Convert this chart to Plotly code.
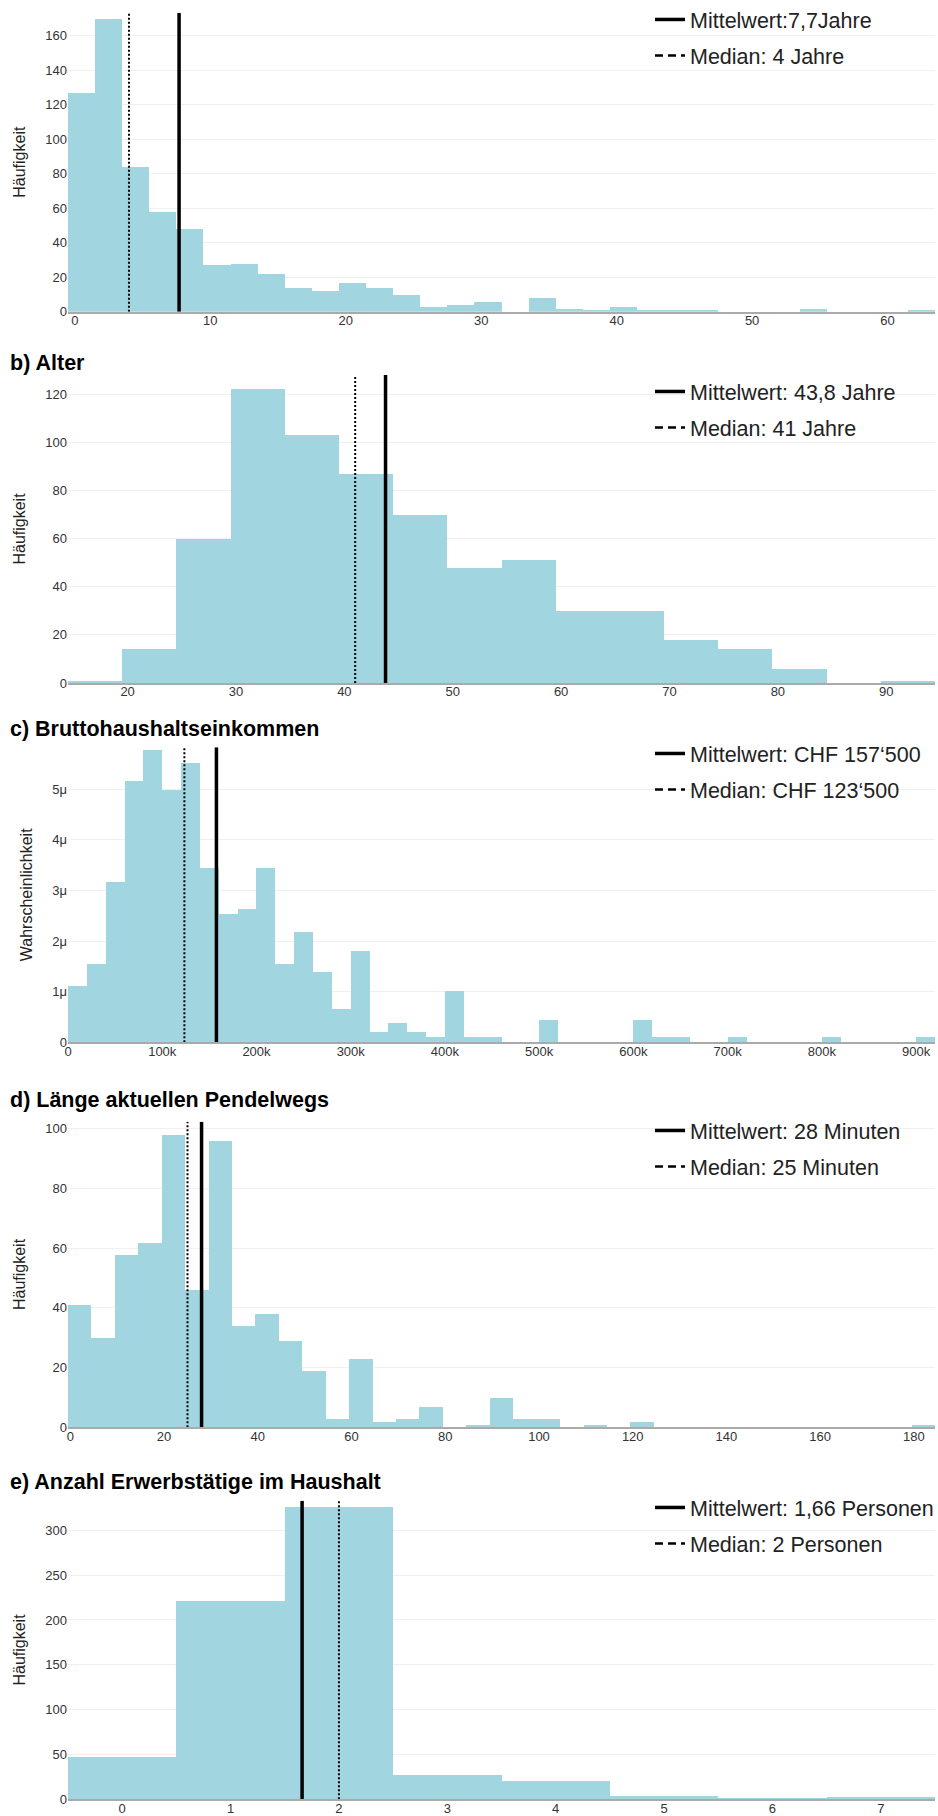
import plotly.graph_objects as go

FIG_W, FIG_H = 938, 1816
BAR_COLOR = "#A1D6E0"
FONT = "Liberation Sans, Arial, sans-serif"

# ---------------- data ----------------
# a) (title outside picture)
A_START, A_WIDTH = -0.5, 2
A_COUNTS = [127, 170, 84, 58, 48, 27, 28, 22, 14, 12, 17, 14, 10, 3, 4, 6,
            0, 8, 2, 1, 3, 1, 1, 1, 0, 0, 0, 2, 0, 0, 0, 1]
A_MEAN, A_MEDIAN = 7.7, 4
A_LABELS = ["Mittelwert:7,7Jahre", "Median: 4 Jahre"]

# b) Alter
B_START, B_WIDTH = 14.5, 5
B_COUNTS = [1, 14, 60, 122, 103, 87, 70, 48, 51, 30, 30, 18, 14, 6, 0, 1]
B_MEAN, B_MEDIAN = 43.8, 41
B_LABELS = ["Mittelwert: 43,8 Jahre", "Median: 41 Jahre"]

# c) Bruttohaushaltseinkommen (density, in 1e-6)
C_START, C_WIDTH = 0, 20000
C_DENSITY_MICRO = [1.10, 1.54, 3.17, 5.16, 5.78, 4.99, 5.51, 3.44, 2.53, 2.63,
                   3.44, 1.54, 2.17, 1.38, 0.65, 1.80, 0.20, 0.37, 0.20, 0.09,
                   1.01, 0.09, 0.09, 0, 0, 0.44, 0, 0, 0, 0,
                   0.44, 0.09, 0.09, 0, 0, 0.09, 0, 0, 0, 0,
                   0.09, 0, 0, 0, 0, 0.09]
C_MEAN, C_MEDIAN = 157500, 123500
C_LABELS = ["Mittelwert: CHF 157\u2018500", "Median: CHF 123\u2018500"]

# d) Länge aktuellen Pendelwegs
D_START, D_WIDTH = -0.5, 5
D_COUNTS = [41, 30, 58, 62, 98, 46, 96, 34, 38, 29, 19, 3, 23, 2, 3, 7, 0, 1,
            10, 3, 3, 0, 1, 0, 2, 0, 0, 0, 0, 0, 0, 0, 0, 0, 0, 0, 1]
D_MEAN, D_MEDIAN = 28, 25
D_LABELS = ["Mittelwert: 28 Minuten", "Median: 25 Minuten"]

# e) Anzahl Erwerbstätige im Haushalt
E_START, E_WIDTH = -0.5, 1
E_COUNTS = [48, 221, 326, 27, 21, 4, 2, 3]
E_MEAN, E_MEDIAN = 1.66, 2
E_LABELS = ["Mittelwert: 1,66 Personen", "Median: 2 Personen"]

TITLES = [None, "b) Alter", "c) Bruttohaushaltseinkommen",
          "d) Länge aktuellen Pendelwegs", "e) Anzahl Erwerbstätige im Haushalt"]
Y_TITLES = ["Häufigkeit", "Häufigkeit", "Wahrscheinlichkeit", "Häufigkeit", "Häufigkeit"]

# ---------------- layout (pixel geometry) ----------------
PLOT_L, PLOT_R = 68, 935
# (plot top px, plot bottom px)
PANEL_PX = [(12.7, 311.7), (375, 683), (747.3, 1042.3), (1121.7, 1427.3), (1500.7, 1799.3)]
TITLE_Y_PX = [None, 362.5, 728.5, 1100, 1481.5]
LEGEND_TOP_PX = [-1, 371, 733, 1110, 1487]
LEGEND_LEFT_PX = 650
Y_TOPS = [173.3, 128, 5.83e-6, 102.4, 333]
Y_DTICKS = [20, 20, 1e-6, 20, 50]
X_DTICKS = [10, 10, 100000, 20, 1]

panels = [
    (A_START, A_WIDTH, A_COUNTS, A_MEAN, A_MEDIAN, A_LABELS),
    (B_START, B_WIDTH, B_COUNTS, B_MEAN, B_MEDIAN, B_LABELS),
    (C_START, C_WIDTH, [v * 1e-6 for v in C_DENSITY_MICRO], C_MEAN, C_MEDIAN, C_LABELS),
    (D_START, D_WIDTH, D_COUNTS, D_MEAN, D_MEDIAN, D_LABELS),
    (E_START, E_WIDTH, E_COUNTS, E_MEAN, E_MEDIAN, E_LABELS),
]

fig = go.Figure()
layout = dict(
    width=FIG_W, height=FIG_H,
    margin=dict(l=PLOT_L, r=FIG_W - PLOT_R, t=0, b=0, autoexpand=False),
    paper_bgcolor="white", plot_bgcolor="white",
    font=dict(family=FONT, color="#222"),
    bargap=0, annotations=[],
)

plot_w = PLOT_R - PLOT_L
for i, (start, width, vals, mean, median, labels) in enumerate(panels):
    n = i + 1
    sfx = "" if n == 1 else str(n)
    xa, ya = "x" + sfx, "y" + sfx
    leg = "legend" + sfx
    centers = [start + width * (k + 0.5) for k in range(len(vals))]
    x_end = start + width * len(vals)
    ytop = Y_TOPS[i]

    fig.add_trace(go.Bar(x=centers, y=vals, width=width, xaxis=xa, yaxis=ya,
                         marker=dict(color=BAR_COLOR, line=dict(width=0)),
                         showlegend=False, hoverinfo="skip"))
    # mean line (also legend entry)
    fig.add_trace(go.Scatter(x=[mean, mean], y=[0, ytop], mode="lines", xaxis=xa, yaxis=ya,
                             line=dict(color="black", width=3.5), name=labels[0],
                             legend=leg, legendgroup=f"mean{n}", hoverinfo="skip"))
    # median line (dotted in plot)
    fig.add_trace(go.Scatter(x=[median, median], y=[0, ytop], mode="lines", xaxis=xa, yaxis=ya,
                             line=dict(color="black", width=2, dash="2px,2px"),
                             showlegend=False, hoverinfo="skip"))
    # median legend entry (dashed sample)
    fig.add_trace(go.Scatter(x=[None], y=[None], mode="lines", xaxis=xa, yaxis=ya,
                             line=dict(color="black", width=2.5, dash="8px,5px"),
                             name=labels[1], legend=leg, legendgroup=f"median{n}"))

    top_px, bot_px = PANEL_PX[i]
    dom = [1 - bot_px / FIG_H, 1 - top_px / FIG_H]
    layout["xaxis" + sfx] = dict(
        domain=[0, 1], anchor=ya, range=[start, x_end], dtick=X_DTICKS[i], tick0=0,
        showgrid=False, zeroline=False, showline=True, linecolor="#aaaaaa", linewidth=1.5,
        ticks="", tickfont=dict(size=13, color="#333"), exponentformat="SI", automargin=False,
        ticklabelstandoff=-4,
    )
    layout["yaxis" + sfx] = dict(
        domain=dom, anchor=xa, range=[0, ytop], dtick=Y_DTICKS[i], tick0=0,
        showgrid=True, gridcolor="#f0f0f0", gridwidth=1, zeroline=False, showline=False,
        ticks="", tickfont=dict(size=13, color="#333"), exponentformat="SI", automargin=False,
        title=dict(text=Y_TITLES[i], font=dict(size=16, color="#222")),
    )
    layout[leg] = dict(
        x=(LEGEND_LEFT_PX - PLOT_L) / plot_w, xanchor="left",
        y=1 - LEGEND_TOP_PX[i] / FIG_H, yanchor="top",
        bgcolor="rgba(0,0,0,0)", borderwidth=0,
        font=dict(size=21.5, color="#222", family=FONT),
        traceorder="grouped", tracegroupgap=5,
    )
    if TITLES[i]:
        layout["annotations"].append(dict(
            text="<b>" + TITLES[i] + "</b>", xref="paper", yref="paper",
            x=(8 - PLOT_L) / plot_w, xanchor="left",
            y=1 - TITLE_Y_PX[i] / FIG_H, yanchor="middle",
            showarrow=False, font=dict(size=21.5, color="black", family=FONT),
        ))

fig.update_layout(**layout)
fig.write_html("out.html")
